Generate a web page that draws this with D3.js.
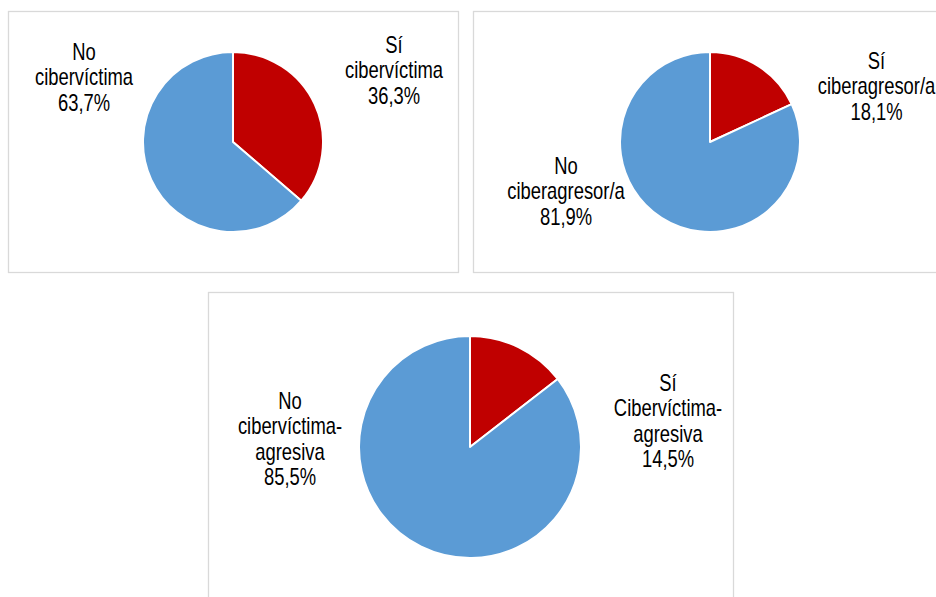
<!DOCTYPE html>
<html>
<head>
<meta charset="utf-8">
<script src="https://cdn.jsdelivr.net/npm/d3@7"></script>
<style>
  html, body { margin: 0; padding: 0; background: #fff; }
  svg { display: block; }
  text { font-family: "Liberation Sans", Arial, sans-serif; font-size: 23px; fill: #000; }
</style>
</head>
<body>
<svg id="chart" width="936" height="597"></svg>
<script>
// ---- Data ----
const categories1 = ["Sí cibervíctima", "No cibervíctima"];
const values1 = [36.3, 63.7];
const labels1 = [["Sí", "cibervíctima", "36,3%"], ["No", "cibervíctima", "63,7%"]];

const categories2 = ["Sí ciberagresor/a", "No ciberagresor/a"];
const values2 = [18.1, 81.9];
const labels2 = [["Sí", "ciberagresor/a", "18,1%"], ["No", "ciberagresor/a", "81,9%"]];

const categories3 = ["Sí Cibervíctima-agresiva", "No cibervíctima-agresiva"];
const values3 = [14.5, 85.5];
const labels3 = [["Sí", "Cibervíctima-", "agresiva", "14,5%"], ["No", "cibervíctima-", "agresiva", "85,5%"]];

const colors = ["#C00000", "#5B9BD5"];

// ---- Layout ----
const panels = [
  { box: [8.5, 11.5, 450, 261], cx: 233, cy: 142, r: 90, values: values1, labels: labels1, cats: categories1,
    labelPos: [[394, 53], [84, 60]] },
  { box: [473.5, 11.5, 480, 261], cx: 710, cy: 142, r: 90, values: values2, labels: labels2, cats: categories2,
    labelPos: [[876.5, 69], [566, 174]] },
  { box: [208.5, 292.5, 525, 320], cx: 470, cy: 447, r: 111, values: values3, labels: labels3, cats: categories3,
    labelPos: [[668, 391], [290, 409]] }
];

const svg = d3.select("#chart");
const color = d3.scaleOrdinal().range(colors);
const lineH = 25.5;
const squeeze = 0.8;

panels.forEach((p, pi) => {
  const g = svg.append("g");
  g.append("rect")
    .attr("x", p.box[0]).attr("y", p.box[1])
    .attr("width", p.box[2]).attr("height", p.box[3])
    .attr("fill", "#fff").attr("stroke", "#d9d9d9").attr("stroke-width", 1.3);

  const pie = d3.pie().sort(null).value(d => d)(p.values);
  const arc = d3.arc().innerRadius(0).outerRadius(p.r);
  const pg = g.append("g").attr("transform", `translate(${p.cx},${p.cy})`);
  pg.selectAll("path").data(pie).join("path")
    .attr("d", arc)
    .attr("fill", (d, i) => color(i))
    .attr("stroke", "#fff").attr("stroke-width", 2).attr("stroke-linejoin", "round");

  p.labels.forEach((lines, i) => {
    const [lx, ly] = p.labelPos[i];
    const t = g.append("text").attr("text-anchor", "middle")
      .attr("transform", `translate(${lx},0) scale(${squeeze},1)`);
    lines.forEach((ln, j) => {
      t.append("tspan").attr("x", 0).attr("y", ly + j * lineH).text(ln);
    });
  });
});
</script>
</body>
</html>
